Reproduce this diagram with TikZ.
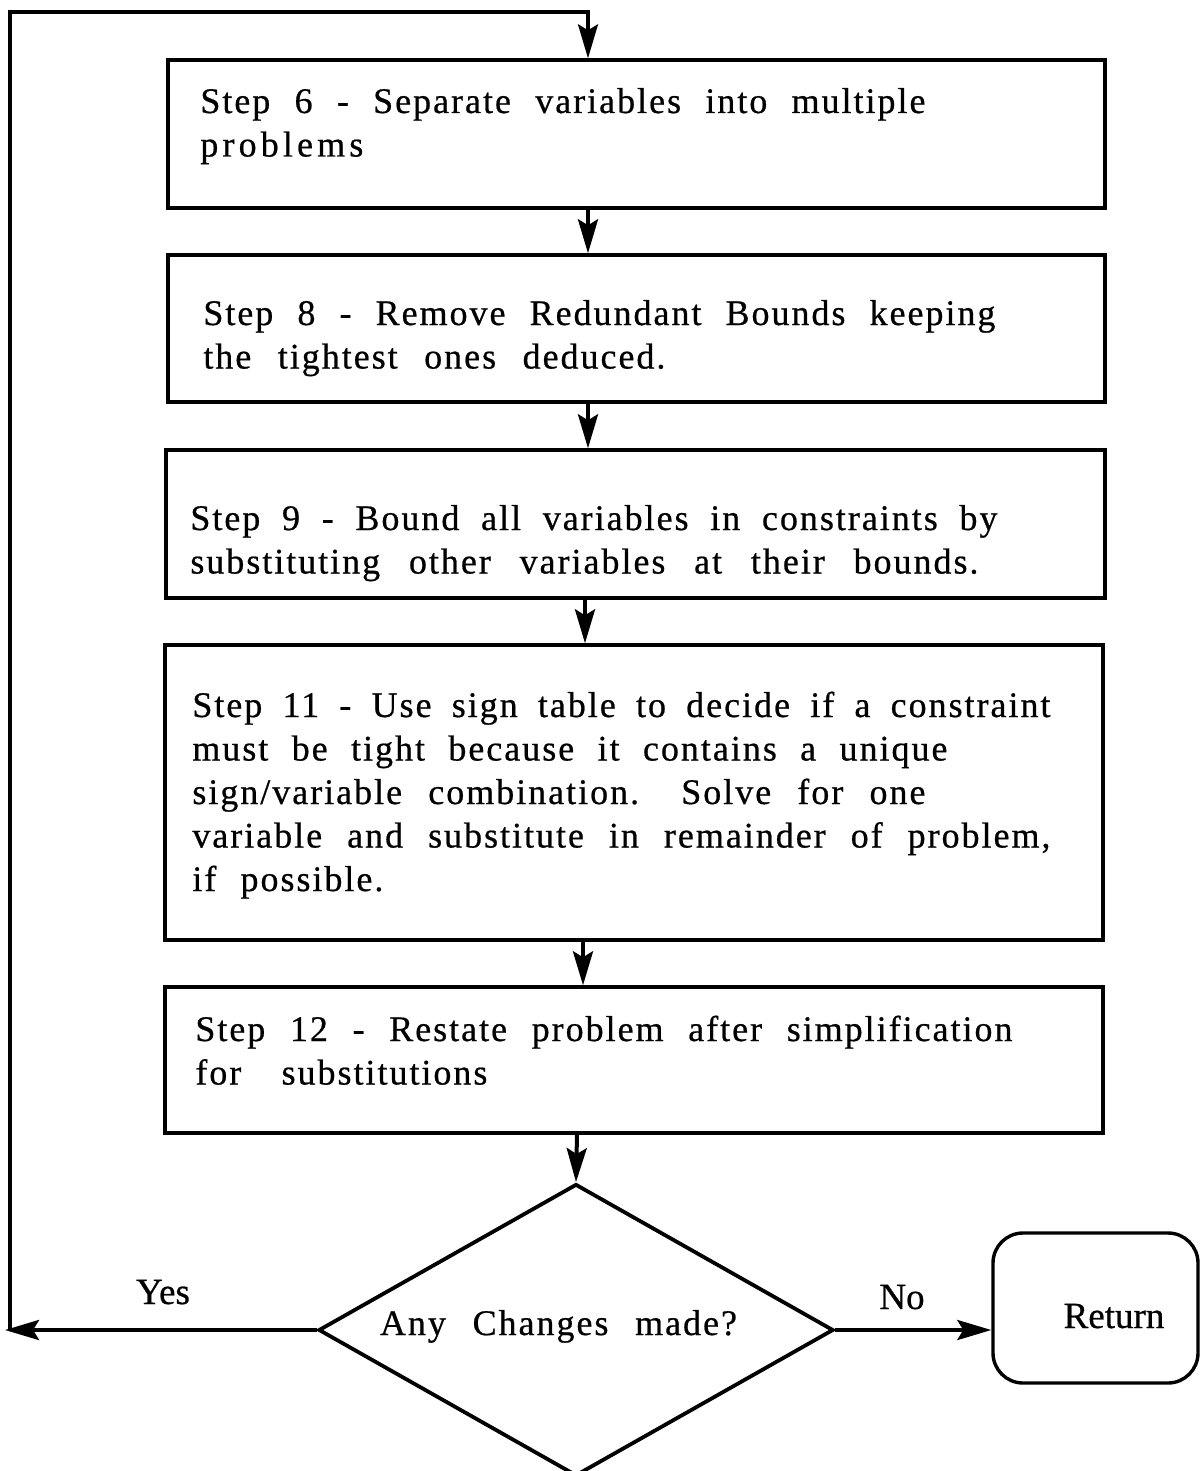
\documentclass[tikz,border=0pt]{standalone}
\usepackage{fontspec}
\setmainfont{Liberation Serif}[FakeBold=0.6]
\newfontfamily\boxfont{Liberation Serif}[LetterSpace=5.5,FakeBold=0.6]
\newfontfamily\wideboxfont{Liberation Serif}[LetterSpace=11.5,FakeBold=0.6]
\usetikzlibrary{arrows.meta,shapes.geometric}
\newcommand\TextLines[1]{\vtop{#1}}
\newcommand\Ln[2]{\hbox to #1{\frenchspacing\spaceskip=4pt plus 1fil\relax #2}}
\begin{document}
\begin{tikzpicture}[x=0.5pt,y=-0.5pt,
  stepbox/.style={draw,line width=1.7pt,rectangle,inner sep=0pt},
  steptext/.style={anchor=base west,inner sep=0pt,font=\boxfont\fontsize{18}{21.75}\selectfont},
  arr/.style={line width=2pt,-{Stealth[length=17pt,width=10pt,inset=3pt]}},
  lbl/.style={font=\fontsize{18.5}{20}\selectfont,inner sep=0pt,anchor=base}]
\useasboundingbox (0,0) rectangle (1200,1471);
\fill[white] (0,0) rectangle (1200,1471);

% boxes
\node[stepbox,minimum width=468.5pt,minimum height=74pt] (b1) at (636.5,134) {};
\node[stepbox,minimum width=468.5pt,minimum height=73.5pt] (b2) at (636.5,328.5) {};
\node[stepbox,minimum width=469.5pt,minimum height=74pt] (b3) at (635.5,524) {};
\node[stepbox,minimum width=469pt,minimum height=147.5pt] (b4) at (634,792.5) {};
\node[stepbox,minimum width=469pt,minimum height=73pt] (b5) at (634,1060) {};

% box texts
\node[steptext] (t1) at (200,113) {\TextLines{\Ln{362.5pt}{Step 6 - Separate variables into multiple}\hbox{\wideboxfont\fontsize{18}{21.75}\selectfont problems}}};
\node[steptext] (t2) at (203,325) {\TextLines{\Ln{396pt}{Step 8 - Remove Redundant Bounds keeping}\Ln{231pt}{the tightest ones deduced.}}};
\node[steptext] (t3) at (190,530) {\TextLines{\Ln{403.5pt}{Step 9 - Bound all variables in constraints by}\Ln{394pt}{substituting other variables at their bounds.}}};
\node[steptext] (t4) at (192,717) {\TextLines{\Ln{429pt}{Step 11 - Use sign table to decide if a constraint}\Ln{377.5pt}{must be tight because it contains a unique}\Ln{366.5pt}{sign/variable combination.\hskip 8pt\ Solve for one}\Ln{429pt}{variable and substitute in remainder of problem,}\Ln{95.5pt}{if possible.}}};
\node[steptext] (t5) at (195,1041) {\TextLines{\Ln{408.5pt}{Step 12 - Restate problem after simplification}\Ln{146pt}{for substitutions}}};

% decision
\node[draw,diamond,line width=1.9pt,minimum width=257.5pt,minimum height=146pt,inner sep=0pt] (dec) at (576,1330) {};
\node[steptext,anchor=base] (dect) at (558.5,1335) {\Ln{178.5pt}{Any Changes made?}};

% return
\node[draw,rounded corners=15pt,line width=1.7pt,minimum width=102.5pt,minimum height=75pt,inner sep=0pt] (ret) at (1095.5,1308) {};
\node[lbl] (rett) at (1114,1328) {Return};

% labels
\node[lbl] (yes) at (163,1304) {Yes};
\node[lbl] (no) at (902,1309) {No};

% connectors
\coordinate (xa) at (588,0);
\coordinate (xb) at (585,0);
\coordinate (xc) at (583,0);
\coordinate (xd) at (577,0);
\draw[arr] (xa |- b1.south) -- (xa |- b2.north);
\draw[arr] (xa |- b2.south) -- (xa |- b3.north);
\draw[arr] (xb |- b3.south) -- (xb |- b4.north);
\draw[arr] (xc |- b4.south) -- (xc |- b5.north);
\draw[arr] (xd |- b5.south) -- (dec.north);
\coordinate (yesend) at (5,1330);
\draw[arr] (dec.west) -- (yesend);
\coordinate (loopbot) at (10,1330);
\coordinate (looptop) at (10,12);
\draw[arr,line width=1.6pt] (loopbot) -- (looptop) -| (xa |- b1.north);
\draw[arr] (dec.east) -- (dec.east -| ret.west);
\end{tikzpicture}
\end{document}
